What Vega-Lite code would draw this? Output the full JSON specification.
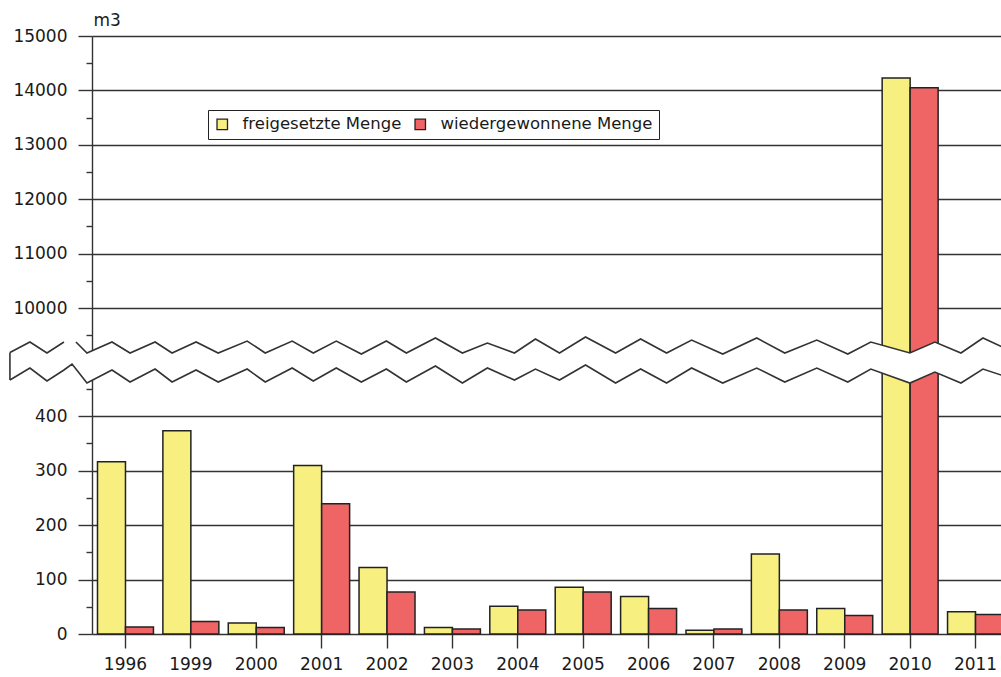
{
  "$schema": "https://vega.github.io/schema/vega-lite/v6.json",
  "width": 917,
  "height": 598,
  "autosize": {"type": "none"},
  "padding": {"left": 92, "top": 36, "right": 0, "bottom": 43},
  "config": {
    "font": "DejaVu Sans",
    "view": {"stroke": null},
    "background": "white"
  },
  "datasets": {
    "bars": [
      {"year": "1996", "series": "freigesetzte Menge", "value": 316},
      {"year": "1996", "series": "wiedergewonnene Menge", "value": 13},
      {"year": "1999", "series": "freigesetzte Menge", "value": 373},
      {"year": "1999", "series": "wiedergewonnene Menge", "value": 23},
      {"year": "2000", "series": "freigesetzte Menge", "value": 20},
      {"year": "2000", "series": "wiedergewonnene Menge", "value": 12},
      {"year": "2001", "series": "freigesetzte Menge", "value": 309},
      {"year": "2001", "series": "wiedergewonnene Menge", "value": 239},
      {"year": "2002", "series": "freigesetzte Menge", "value": 122},
      {"year": "2002", "series": "wiedergewonnene Menge", "value": 77},
      {"year": "2003", "series": "freigesetzte Menge", "value": 12},
      {"year": "2003", "series": "wiedergewonnene Menge", "value": 9},
      {"year": "2004", "series": "freigesetzte Menge", "value": 51},
      {"year": "2004", "series": "wiedergewonnene Menge", "value": 44},
      {"year": "2005", "series": "freigesetzte Menge", "value": 86},
      {"year": "2005", "series": "wiedergewonnene Menge", "value": 77},
      {"year": "2006", "series": "freigesetzte Menge", "value": 69},
      {"year": "2006", "series": "wiedergewonnene Menge", "value": 47},
      {"year": "2007", "series": "freigesetzte Menge", "value": 7},
      {"year": "2007", "series": "wiedergewonnene Menge", "value": 9},
      {"year": "2008", "series": "freigesetzte Menge", "value": 147},
      {"year": "2008", "series": "wiedergewonnene Menge", "value": 44},
      {"year": "2009", "series": "freigesetzte Menge", "value": 47},
      {"year": "2009", "series": "wiedergewonnene Menge", "value": 34},
      {"year": "2010", "series": "freigesetzte Menge", "value": 14230},
      {"year": "2010", "series": "wiedergewonnene Menge", "value": 14050},
      {"year": "2011", "series": "freigesetzte Menge", "value": 41},
      {"year": "2011", "series": "wiedergewonnene Menge", "value": 36}
    ],
    "zig": [
      {"u": -8.95, "top": 47.07, "bot": 42.47, "seg": "a"},
      {"u": -6.77, "top": 48.83, "bot": 44.48, "seg": "a"},
      {"u": -4.91, "top": 46.99, "bot": 42.31, "seg": "a"},
      {"u": -3.06, "top": 48.83, "bot": 44.15, "seg": "a"},
      {"u": -2.18, "top": 48.83, "bot": 45.15, "seg": "g"},
      {"u": -1.75, "top": 48.83, "bot": 44.31, "seg": "b"},
      {"u": -0.55, "top": 46.99, "bot": 41.97, "seg": "b"},
      {"u": 2.18, "top": 48.83, "bot": 44.15, "seg": "b"},
      {"u": 4.15, "top": 46.99, "bot": 42.14, "seg": "b"},
      {"u": 6.88, "top": 48.83, "bot": 44.31, "seg": "b"},
      {"u": 8.73, "top": 46.99, "bot": 42.14, "seg": "b"},
      {"u": 11.35, "top": 48.83, "bot": 44.15, "seg": "b"},
      {"u": 13.76, "top": 46.99, "bot": 42.14, "seg": "b"},
      {"u": 16.92, "top": 48.99, "bot": 44.31, "seg": "b"},
      {"u": 18.89, "top": 46.99, "bot": 42.14, "seg": "b"},
      {"u": 21.83, "top": 48.99, "bot": 44.48, "seg": "b"},
      {"u": 24.13, "top": 46.99, "bot": 42.31, "seg": "b"},
      {"u": 26.64, "top": 48.99, "bot": 44.48, "seg": "b"},
      {"u": 29.37, "top": 46.82, "bot": 42.14, "seg": "b"},
      {"u": 32.10, "top": 48.99, "bot": 44.31, "seg": "b"},
      {"u": 34.28, "top": 46.99, "bot": 42.14, "seg": "b"},
      {"u": 37.45, "top": 49.50, "bot": 44.82, "seg": "b"},
      {"u": 40.39, "top": 46.99, "bot": 41.97, "seg": "b"},
      {"u": 43.12, "top": 48.66, "bot": 44.48, "seg": "b"},
      {"u": 46.07, "top": 46.99, "bot": 42.47, "seg": "b"},
      {"u": 48.36, "top": 49.33, "bot": 44.31, "seg": "b"},
      {"u": 50.98, "top": 46.99, "bot": 42.47, "seg": "b"},
      {"u": 53.82, "top": 49.67, "bot": 44.98, "seg": "b"},
      {"u": 57.10, "top": 46.99, "bot": 41.97, "seg": "b"},
      {"u": 59.83, "top": 49.33, "bot": 44.31, "seg": "b"},
      {"u": 62.66, "top": 46.99, "bot": 41.97, "seg": "b"},
      {"u": 65.39, "top": 49.16, "bot": 44.48, "seg": "b"},
      {"u": 68.78, "top": 46.82, "bot": 41.97, "seg": "b"},
      {"u": 72.49, "top": 49.50, "bot": 44.48, "seg": "b"},
      {"u": 75.55, "top": 46.99, "bot": 42.14, "seg": "b"},
      {"u": 79.04, "top": 49.16, "bot": 44.48, "seg": "b"},
      {"u": 82.42, "top": 46.82, "bot": 42.14, "seg": "b"},
      {"u": 84.93, "top": 48.83, "bot": 44.31, "seg": "b"},
      {"u": 89.19, "top": 46.99, "bot": 41.97, "seg": "b"},
      {"u": 91.92, "top": 48.83, "bot": 43.81, "seg": "b"},
      {"u": 94.76, "top": 46.99, "bot": 41.97, "seg": "b"},
      {"u": 97.16, "top": 49.50, "bot": 44.31, "seg": "b"},
      {"u": 100.44, "top": 47.16, "bot": 42.64, "seg": "b"}
    ]
  },
  "layer": [
    {
      "data": {"name": "bars"},
      "mark": {"type": "bar", "stroke": "#222222", "strokeWidth": 1.5},
      "encoding": {
        "x": {
          "field": "year",
          "type": "ordinal",
          "sort": null,
          "scale": {"paddingInner": 0.144, "paddingOuter": 0.084},
          "axis": {
            "title": null,
            "domain": false,
            "grid": false,
            "labelAngle": 0,
            "labelFontSize": 17,
            "labelColor": "#1a1a1a",
            "labelPadding": 8,
            "tickSize": 14,
            "tickColor": "#333333",
            "tickWidth": 1.4
          }
        },
        "xOffset": {
          "field": "series",
          "type": "nominal",
          "sort": null,
          "scale": {"paddingInner": 0, "paddingOuter": 0}
        },
        "y": {
          "field": "value",
          "type": "quantitative",
          "scale": {
            "domain": [0, 450, 9500, 15000],
            "range": [598, 352.75, 299.2, 0],
            "zero": false,
            "nice": false
          },
          "axis": {
            "values": [0, 50, 100, 150, 200, 250, 300, 350, 400, 450, 9500, 10000, 10500, 11000, 11500, 12000, 12500, 13000, 13500, 14000, 14500, 15000],
            "labelExpr": "((datum.value <= 400 && datum.value % 100 == 0) || (datum.value >= 10000 && datum.value % 1000 == 0)) ? format(datum.value, 'd') : ''",
            "labelOverlap": false,
            "labelFontSize": 17,
            "labelColor": "#1a1a1a",
            "labelPadding": 11,
            "grid": true,
            "gridColor": "#333333",
            "gridWidth": 1.4,
            "gridOpacity": {
              "condition": {"test": "(datum.value <= 400 && datum.value % 100 == 0) || (datum.value >= 10000 && datum.value % 1000 == 0)", "value": 1},
              "value": 0
            },
            "tickSize": 14,
            "tickColor": "#333333",
            "tickWidth": 1.4,
            "tickDash": {
              "condition": {"test": "!((datum.value <= 400 && datum.value % 100 == 0) || (datum.value >= 10000 && datum.value % 1000 == 0))", "value": [6, 100]},
              "value": []
            },
            "domainColor": "#333333",
            "domainWidth": 1.4,
            "title": "m3",
            "titleAngle": 0,
            "titleAlign": "left",
            "titleBaseline": "alphabetic",
            "titleX": 1,
            "titleY": -11,
            "titleFontSize": 17,
            "titleFontWeight": "normal",
            "titleColor": "#1a1a1a"
          }
        },
        "color": {
          "field": "series",
          "type": "nominal",
          "sort": null,
          "scale": {
            "domain": ["freigesetzte Menge", "wiedergewonnene Menge"],
            "range": ["#F7EF7F", "#EF6464"]
          },
          "legend": {
            "title": null,
            "orient": "none",
            "direction": "horizontal",
            "legendX": 116,
            "legendY": 74,
            "padding": 6,
            "fillColor": "white",
            "strokeColor": "#222222",
            "symbolType": "square",
            "symbolSize": 110,
            "symbolStrokeColor": "#222222",
            "symbolStrokeWidth": 1.3,
            "symbolOpacity": 1,
            "labelFontSize": 16.5,
            "labelColor": "#1a1a1a",
            "labelLimit": 400,
            "labelOffset": 12,
            "columnPadding": 10
          }
        }
      }
    },
    {
      "data": {"name": "zig"},
      "encoding": {
        "x": {"field": "u", "type": "quantitative", "scale": {"domain": [0, 100], "nice": false, "zero": false}, "axis": null}
      },
      "layer": [
        {
          "mark": {"type": "area", "fill": "white", "clip": false},
          "encoding": {
            "y": {"field": "top", "type": "quantitative", "scale": {"domain": [0, 100], "nice": false, "zero": false}, "axis": null},
            "y2": {"field": "bot"}
          }
        },
        {
          "transform": [{"filter": "datum.seg != 'g'"}],
          "mark": {"type": "line", "stroke": "#333333", "strokeWidth": 1.6, "clip": false},
          "encoding": {
            "y": {"field": "top", "type": "quantitative", "axis": null},
            "detail": {"field": "seg"}
          }
        },
        {
          "mark": {"type": "line", "stroke": "#333333", "strokeWidth": 1.6, "clip": false},
          "encoding": {
            "y": {"field": "bot", "type": "quantitative", "axis": null}
          }
        },
        {
          "transform": [{"filter": "datum.u < -8"}],
          "mark": {"type": "rule", "stroke": "#333333", "strokeWidth": 1.6, "clip": false},
          "encoding": {
            "y": {"field": "top", "type": "quantitative", "axis": null},
            "y2": {"field": "bot"}
          }
        }
      ]
    }
  ],
  "resolve": {"scale": {"x": "independent", "y": "independent", "color": "independent"}}
}
